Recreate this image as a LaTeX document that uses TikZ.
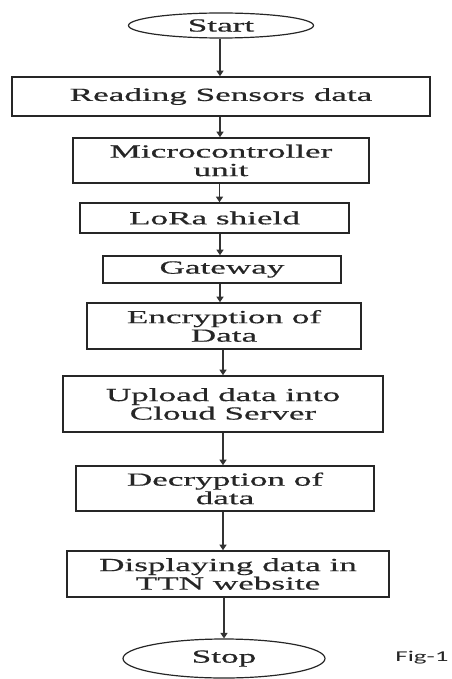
\documentclass[tikz,border=0pt]{standalone}
\usepackage{fontspec}
\usetikzlibrary{shapes.geometric,arrows.meta}
\newfontfamily\wserif[FakeStretch=1.9,FakeBold=0.6]{Liberation Serif}
\newfontfamily\wsans[FakeStretch=1.8]{Carlito}
\begin{document}
\begin{tikzpicture}[x=1pt,y=1pt,
  box/.style={draw=black!85,line width=1.6pt,rectangle,inner sep=0pt,align=center,
    font=\wserif\fontsize{18.5}{18.5}\selectfont,text=black!85},
  term/.style={draw=black!85,line width=1.2pt,ellipse,inner sep=0pt,
    font=\wserif\fontsize{18.5}{18.5}\selectfont,text=black!85},
  arr/.style={draw=black!80,line width=1.6pt,-{Triangle[width=7pt,length=5.5pt]}}]
\useasboundingbox (0,0) rectangle (451,-679);
\node[term,minimum width=185,minimum height=25] (start) at (221,-25.5) {Start};
\node[box,minimum width=418,minimum height=39] (read) at (221,-96.5) {Reading Sensors data};
\node[box,minimum width=296,minimum height=45] (mcu) at (221,-160.5) {Microcontroller\\unit};
\node[box,minimum width=269,minimum height=30] (lora) at (214.5,-218) {LoRa shield};
\node[box,minimum width=238,minimum height=27] (gw) at (222,-269.5) {Gateway};
\node[box,minimum width=274,minimum height=46] (enc) at (224,-326) {Encryption of\\Data};
\node[box,minimum width=320,minimum height=56] (up) at (223,-404) {Upload data into\\Cloud Server};
\node[box,minimum width=298,minimum height=45] (dec) at (225,-488.5) {Decryption of\\data};
\node[box,minimum width=322,minimum height=46] (disp) at (228,-574) {Displaying data in\\TTN website};
\node[term,minimum width=202,minimum height=39] (stop) at (224,-658.5) {Stop};
\node[font=\wsans\fontsize{15}{15}\selectfont,text=black!85,inner sep=0pt] (fig) at (422,-658) {Fig-1};
\draw[arr] (start.south -| 220,0) -- (read.north -| 220,0);
\draw[arr] (read.south -| 220,0) -- (mcu.north -| 220,0);
\draw[arr] (mcu.south -| 219.5,0) -- (lora.north -| 219.5,0);
\draw[arr] (lora.south -| 220,0) -- (gw.north -| 220,0);
\draw[arr] (gw.south -| 220,0) -- (enc.north -| 220,0);
\draw[arr] (enc.south -| 223,0) -- (up.north -| 223,0);
\draw[arr] (up.south -| 223,0) -- (dec.north -| 223,0);
\draw[arr] (dec.south -| 223,0) -- (disp.north -| 223,0);
\draw[arr] (disp.south -| 224,0) -- (stop.north -| 224,0);
\end{tikzpicture}
\end{document}
